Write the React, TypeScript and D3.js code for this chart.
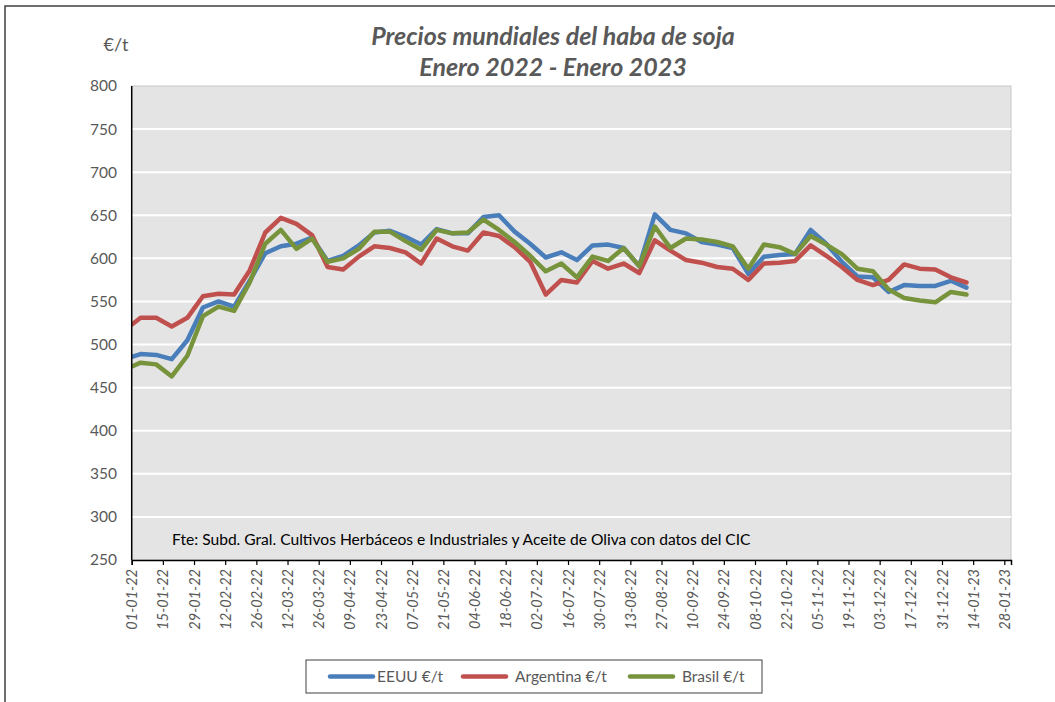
import { useEffect, useRef } from "react";
import * as d3 from "d3";

// weekly quotes (Wednesdays), first one falls before the axis start and is clipped
const firstDate = Date.UTC(2021, 11, 29);
const weekDates = d3.range(55).map((i) => d3.utcDay.offset(new Date(firstDate), 7 * i));

const eeuu = [
  483, 489, 488, 483, 505, 543, 550, 544, 574, 606, 614, 617, 624, 597, 603,
  615, 630, 632, 625, 616, 634, 629, 629, 648, 650, 631, 617, 601, 607,
  598, 615, 616, 612, 591, 651, 633, 629, 619, 616, 612, 582, 602, 604,
  605, 633, 617, 596, 579, 578, 561, 569, 568, 568, 574, 566,
];
const argentina = [
  517, 531, 531, 521, 531, 556, 559, 558, 586, 630, 647, 640, 627, 590, 587,
  602, 614, 612, 607, 594, 623, 614, 609, 630, 626, 613, 596, 558, 575,
  572, 597, 588, 594, 583, 621, 609, 598, 595, 590, 588, 575, 594, 595,
  597, 615, 603, 590, 575, 569, 575, 593, 588, 587, 578, 572,
];
const brasil = [
  471, 479, 477, 463, 487, 533, 544, 539, 572, 617, 633, 611, 623, 596, 600,
  611, 631, 631, 620, 610, 633, 629, 630, 645, 633, 619, 603, 585, 594,
  578, 602, 597, 612, 591, 637, 612, 623, 622, 619, 614, 588, 616, 613,
  605, 626, 616, 605, 588, 585, 564, 554, 551, 549, 561, 558,
];

const seriesNames = ["EEUU €/t", "Argentina €/t", "Brasil €/t"];
const seriesColors = ["#4a7ebb", "#c0504d", "#77933c"];
const yTicks = d3.range(250, 801, 50);
const xTickDates = d3.range(29).map((i) => d3.utcDay.offset(new Date(Date.UTC(2022, 0, 1)), 14 * i));

const FONT = "Lato, 'Liberation Sans', sans-serif";
const GREY = "#595959";

export default function App() {
  const svgRef = useRef<SVGSVGElement>(null);

  useEffect(() => {
    if (!svgRef.current) return;
    const svg = d3.select(svgRef.current);
    svg.selectAll("*").remove();

    const plot = { left: 131.7, right: 1011, top: 86, bottom: 560 };

    const xScale = d3
      .scaleUtc()
      .domain([new Date(Date.UTC(2022, 0, 1)), new Date(Date.UTC(2023, 0, 31))])
      .range([plot.left, plot.right]);
    const yScale = d3.scaleLinear().domain([250, 800]).range([plot.bottom, plot.top]);

    // chart frame (runs off the picture on right and bottom)
    svg
      .append("rect")
      .attr("x", 5)
      .attr("y", 6)
      .attr("width", 1100)
      .attr("height", 760)
      .attr("fill", "#fff")
      .attr("stroke", "#404040")
      .attr("stroke-width", 1.5);

    // plot background
    svg
      .append("rect")
      .attr("x", plot.left)
      .attr("y", plot.top)
      .attr("width", plot.right - plot.left)
      .attr("height", plot.bottom - plot.top)
      .attr("fill", "#e4e4e4")
      .attr("stroke", "#c8c8c8")
      .attr("stroke-width", 1);

    // gridlines
    svg
      .append("g")
      .selectAll("line")
      .data(yTicks.filter((v) => v > 250 && v < 800))
      .join("line")
      .attr("x1", plot.left)
      .attr("x2", plot.right)
      .attr("y1", (d) => yScale(d))
      .attr("y2", (d) => yScale(d))
      .attr("stroke", "#fff")
      .attr("stroke-width", 2);

    // lines
    svg
      .append("defs")
      .append("clipPath")
      .attr("id", "plotClip")
      .append("rect")
      .attr("x", plot.left)
      .attr("y", plot.top)
      .attr("width", plot.right - plot.left)
      .attr("height", plot.bottom - plot.top);

    const line = d3
      .line<number>()
      .x((_, i) => xScale(weekDates[i]))
      .y((d) => yScale(d));

    const lines = svg.append("g").attr("clip-path", "url(#plotClip)");
    [eeuu, argentina, brasil].forEach((values, k) => {
      lines
        .append("path")
        .attr("d", line(values))
        .attr("fill", "none")
        .attr("stroke", seriesColors[k])
        .attr("stroke-width", 4.5)
        .attr("stroke-linejoin", "round")
        .attr("stroke-linecap", "round");
    });

    // axes
    svg
      .append("line")
      .attr("x1", plot.left)
      .attr("x2", plot.left)
      .attr("y1", plot.top)
      .attr("y2", plot.bottom)
      .attr("stroke", "#000")
      .attr("stroke-width", 1.5);

    const xAxis = d3
      .axisBottom(xScale)
      .tickValues(xTickDates)
      .tickSize(5)
      .tickFormat((d) => d3.utcFormat("%d-%m-%y")(d as Date));

    const gx = svg
      .append("g")
      .attr("transform", `translate(0,${plot.bottom})`)
      .call(xAxis);
    gx.select(".domain").attr("stroke", "#000").attr("stroke-width", 1.5);
    gx.selectAll(".tick line").attr("stroke", "#000").attr("stroke-width", 1.2);
    gx.selectAll(".tick text")
      .attr("transform", "rotate(-90)")
      .attr("x", -9)
      .attr("y", 0)
      .attr("dy", "0.35em")
      .attr("text-anchor", "end")
      .style("font-family", FONT)
      .style("font-style", "italic")
      .style("font-size", "14.5px")
      .attr("fill", GREY);

    svg
      .append("g")
      .selectAll("text")
      .data(yTicks)
      .join("text")
      .attr("x", 117)
      .attr("y", (d) => yScale(d))
      .attr("dy", "0.35em")
      .attr("text-anchor", "end")
      .style("font-family", FONT)
      .style("font-size", "15.5px")
      .attr("fill", GREY)
      .text((d) => d);

    // titles
    const title = svg
      .append("text")
      .attr("text-anchor", "middle")
      .style("font-family", FONT)
      .style("font-style", "italic")
      .style("font-weight", "bold")
      .style("font-size", "25px")
      .attr("fill", GREY);
    title.append("tspan").attr("x", 553).attr("y", 45).text("Precios mundiales del haba de soja");
    title.append("tspan").attr("x", 553).attr("y", 76).text("Enero 2022 - Enero 2023");

    svg
      .append("text")
      .attr("x", 116)
      .attr("y", 51)
      .attr("text-anchor", "middle")
      .style("font-family", FONT)
      .style("font-size", "18px")
      .attr("fill", GREY)
      .text("€/t");

    svg
      .append("text")
      .attr("x", 172)
      .attr("y", 545)
      .style("font-family", FONT)
      .style("font-size", "15.6px")
      .attr("fill", "#000")
      .text("Fte: Subd. Gral. Cultivos Herbáceos e Industriales y Aceite de Oliva con datos del CIC");

    // legend
    const legend = svg.append("g");
    legend
      .append("rect")
      .attr("x", 306)
      .attr("y", 660)
      .attr("width", 456)
      .attr("height", 33)
      .attr("fill", "#fff")
      .attr("stroke", "#404040")
      .attr("stroke-width", 1);
    const legendX = [330, 463, 630];
    const legendTextX = [377, 515, 682];
    seriesNames.forEach((name, k) => {
      legend
        .append("line")
        .attr("x1", legendX[k])
        .attr("x2", legendX[k] + 43)
        .attr("y1", 676.5)
        .attr("y2", 676.5)
        .attr("stroke", seriesColors[k])
        .attr("stroke-width", 4.5)
        .attr("stroke-linecap", "round");
      legend
        .append("text")
        .attr("x", legendTextX[k])
        .attr("y", 676.5)
        .attr("dy", "0.35em")
        .style("font-family", FONT)
        .style("font-size", "15.5px")
        .attr("fill", GREY)
        .text(name);
    });
  }, []);

  return (
    <svg
      ref={svgRef}
      width={1055}
      height={702}
      style={{ position: "absolute", left: 0, top: 0, background: "#fff" }}
    />
  );
}
